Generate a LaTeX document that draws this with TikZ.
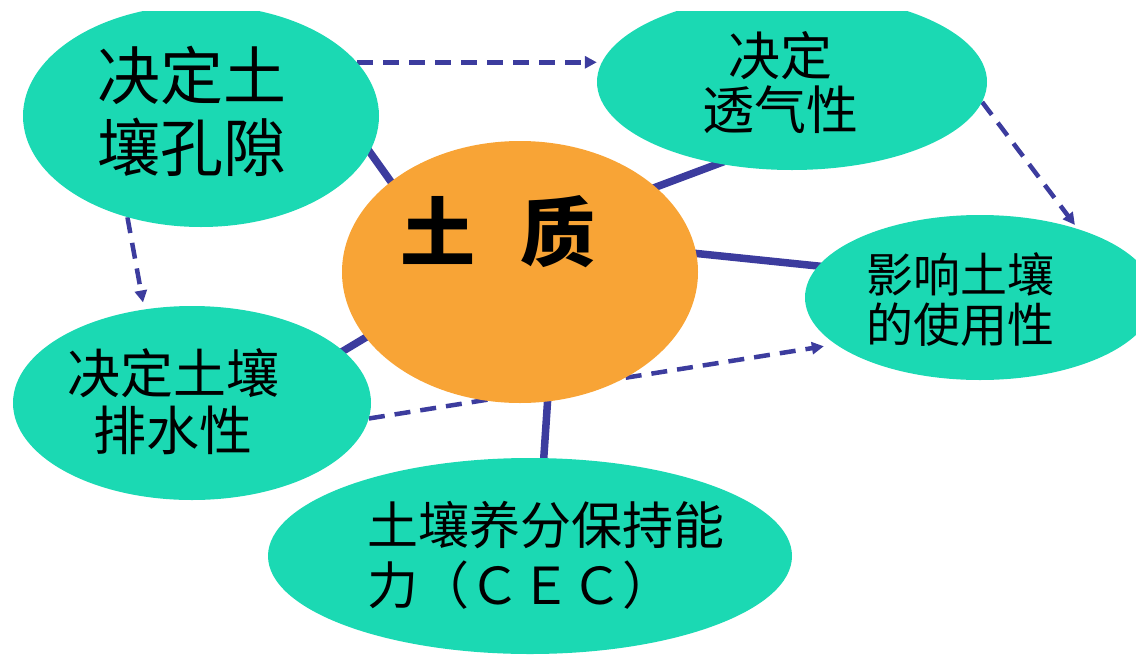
\documentclass[tikz,border=0pt]{standalone}
\usepackage{fontspec}
\newfontfamily\cjk{Noto Sans CJK SC}
\usetikzlibrary{shapes.geometric,arrows.meta,backgrounds}
\definecolor{tealc}{HTML}{1BD9B3}
\definecolor{orangec}{HTML}{F8A436}
\definecolor{bluec}{HTML}{3C3C9E}
\tikzset{
  bubble/.style={ellipse, fill=tealc, draw=none, inner sep=0pt},
  core/.style={ellipse, fill=orangec, draw=none, inner sep=0pt},
  link/.style={draw=bluec, line width=7.5pt, shorten <=-6pt, shorten >=-6pt},
  dasharrow/.style={draw=bluec, line width=4.5pt, dash pattern=on 16pt off 10pt,
    -{Triangle[length=12pt,width=12pt]}},
  label/.style={inner sep=0pt, text=black, align=center, font=\cjk}
}
\begin{document}
\begin{tikzpicture}[x=1pt,y=-1pt]
\useasboundingbox (0,0) rectangle (1136,654);
\begin{scope}
\clip (0,11) rectangle (1136,654);
\node[bubble, minimum width=356pt, minimum height=222pt] (A) at (201,116) {};
\node[bubble, minimum width=390pt, minimum height=176pt] (B) at (792,82) {};
\node[core, minimum width=356pt, minimum height=262pt] (C) at (520,272) {};
\node[bubble, minimum width=350pt, minimum height=165pt] (D) at (980,297.5) {};
\node[bubble, minimum width=358pt, minimum height=194pt] (E) at (192,403) {};
\node[bubble, minimum width=524pt, minimum height=196pt] (F) at (530,556) {};
\end{scope}

\node[label, font=\cjk\fontsize{63}{72}\selectfont] (tA) at (192,111) {决定土\\壤孔隙};
\node[label, font=\cjk\fontsize{52}{54}\selectfont] (tB) at (780,83) {决定\\透气性};
\node[label, font=\cjk\bfseries\fontsize{75}{80}\selectfont] (tC) at (498,232) {土\hspace{45pt}质};
\node[label, font=\cjk\fontsize{47}{50}\selectfont] (tD) at (960,300) {影响土壤\\的使用性};
\node[label, font=\cjk\fontsize{53}{57}\selectfont] (tE) at (173,402) {决定土壤\\排水性};
\node[label, align=left, font=\cjk\fontsize{51}{60}\selectfont] (tF) at (546,555) {土壤养分保持能\\力（ＣＥＣ）};

\begin{scope}[on background layer]
\draw[link] (A.-12) -- (C.145);
\draw[link] (C.32) -- (B.228);
\draw[link] (C.6) -- (D.169);
\draw[link] (E.19) -- (C.203);
\draw[link] (C.-78) -- (F.82);
\draw[dasharrow] (A.19) -- (A.19 -| B.west);
\draw[dasharrow, shorten >=5pt] (B.-6) -- (D.35);
\draw[dasharrow, shorten >=7pt] (A.-126) -- (E.117);
\draw[dasharrow, shorten >=12pt] (E.-5.5) -- (D.198.4);
\end{scope}
\end{tikzpicture}
\end{document}
